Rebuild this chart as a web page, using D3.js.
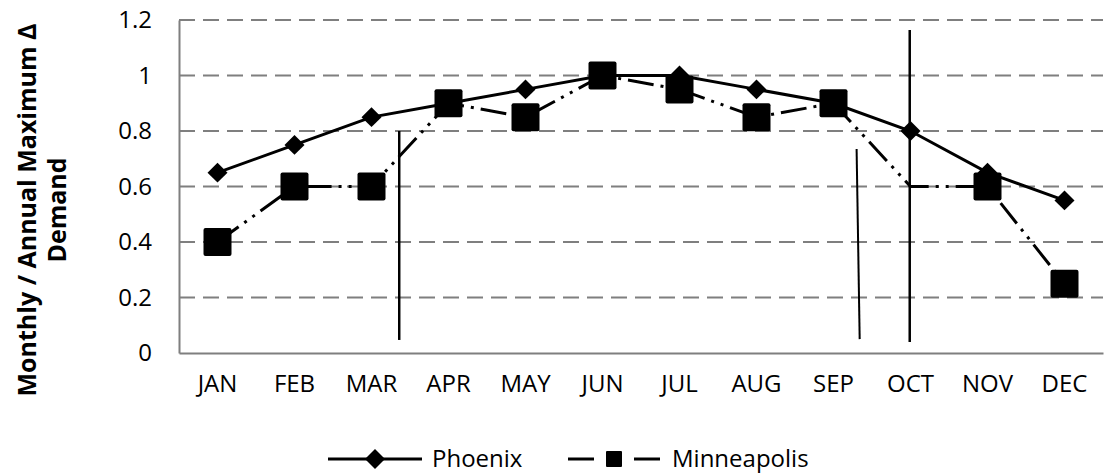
<!DOCTYPE html>
<html><head><meta charset="utf-8">
<script src="https://cdn.jsdelivr.net/npm/d3@7"></script>
<style>body{margin:0;background:#fff}svg{display:block}text{font-family:"Open Sans",sans-serif}</style>
</head><body><svg id="c" width="1110" height="475"></svg>
<script>
const months = ["JAN","FEB","MAR","APR","MAY","JUN","JUL","AUG","SEP","OCT","NOV","DEC"];
const phoenix = [0.65,0.75,0.85,0.9,0.95,1.0,1.0,0.95,0.9,0.8,0.65,0.55];
const minneapolis = [0.4,0.6,0.6,0.9,0.85,1.0,0.95,0.85,0.9,0.6,0.6,0.25];
const minneapolisMarkers = [1,1,1,1,1,1,1,1,1,0,1,1];
const yTicks = [0,0.2,0.4,0.6,0.8,1,1.2];
const yTickLabels = ["0","0.2","0.4","0.6","0.8","1","1.2"];
// annotation vertical lines: [monthIndexTop, valueTop, monthIndexBottom, valueBottom]
const annotations = [[2.36,0.80,2.36,0.047],[8.30,0.735,8.34,0.05],[8.99,1.164,8.99,0.04]];

const svg = d3.select("#c");
const m = {l:179, r:1103, t:20, b:353};
const y = d3.scaleLinear().domain([0,1.2]).range([m.b, m.t]);
const band = d3.scaleBand().domain(months).range([m.l,m.r]);
const bx = i => band(months[i]) + band.bandwidth()/2;
const xc = i => band(months[0]) + band.bandwidth()*(i+0.5);

// gridlines
svg.append("g").selectAll("line").data(yTicks.filter(d=>d>0)).join("line")
  .attr("x1",m.l).attr("x2",m.r).attr("y1",d=>y(d)).attr("y2",d=>y(d))
  .attr("stroke","#7f7f7f").attr("stroke-width",2).attr("stroke-dasharray","16,8");

// axes
const ya = svg.append("g").attr("transform",`translate(${m.l},0)`)
  .call(d3.axisLeft(y).tickValues(yTicks).tickFormat((d,i)=>yTickLabels[i]).tickSize(0).tickPadding(27));
ya.select(".domain").attr("stroke","#7f7f7f").attr("stroke-width",2);
ya.selectAll("text").attr("font-size",24).attr("fill","#000");

const xa = svg.append("g").attr("transform",`translate(0,${m.b})`)
  .call(d3.axisBottom(band).tickSize(0).tickPadding(22));
xa.select(".domain").attr("stroke","#7f7f7f").attr("stroke-width",2);
xa.selectAll("text").attr("font-size",24).attr("fill","#000");

// y title
const yt = svg.append("text").attr("transform",`translate(0,210) rotate(-90)`)
  .attr("text-anchor","middle").attr("font-size",25).attr("font-weight","bold");
yt.append("tspan").attr("x",0).attr("y",36).text("Monthly / Annual Maximum Δ");
yt.append("tspan").attr("x",0).attr("y",66).text("Demand");

const line = d3.line().x((d,i)=>bx(i)).y(d=>y(d));
const mdash = "26,7,3,7,3,7";

svg.append("path").attr("d",line(minneapolis)).attr("fill","none").attr("stroke","#000")
  .attr("stroke-width",3).attr("stroke-dasharray",mdash);
svg.append("path").attr("d",line(phoenix)).attr("fill","none").attr("stroke","#000").attr("stroke-width",3);

// phoenix diamonds
svg.append("g").selectAll("path").data(phoenix).join("path")
  .attr("d",d3.symbol(d3.symbolSquare,200)())
  .attr("transform",(d,i)=>`translate(${bx(i)},${y(d)}) rotate(45)`).attr("fill","#000");

// minneapolis squares
svg.append("g").selectAll("rect").data(minneapolis.map((v,i)=>({v,i})).filter(d=>minneapolisMarkers[d.i]))
  .join("rect").attr("x",d=>bx(d.i)-14).attr("y",d=>y(d.v)-14).attr("width",28).attr("height",28)
  .attr("rx",2).attr("fill","#000");

// annotation lines
svg.append("g").selectAll("line").data(annotations).join("line")
  .attr("x1",d=>xc(d[0])).attr("y1",d=>y(d[1])).attr("x2",d=>xc(d[2])).attr("y2",d=>y(d[3]))
  .attr("stroke","#000").attr("stroke-width",(d,i)=>i===1?2:2.5);

// legend
const lg = svg.append("g");
const ly = 459;
lg.append("line").attr("x1",328).attr("x2",422).attr("y1",ly).attr("y2",ly).attr("stroke","#000").attr("stroke-width",3);
lg.append("path").attr("d",d3.symbol(d3.symbolSquare,200)()).attr("transform",`translate(375,${ly}) rotate(45)`);
lg.append("text").attr("x",432).attr("y",ly+8).attr("font-size",24).text("Phoenix");
lg.append("line").attr("x1",568).attr("x2",594).attr("y1",ly).attr("y2",ly).attr("stroke","#000").attr("stroke-width",3);
lg.append("rect").attr("x",606).attr("y",ly-8).attr("width",16).attr("height",16).attr("rx",1);
lg.append("line").attr("x1",634).attr("x2",660).attr("y1",ly).attr("y2",ly).attr("stroke","#000").attr("stroke-width",3);
lg.append("text").attr("x",672).attr("y",ly+8).attr("font-size",24).text("Minneapolis");
</script></body></html>
